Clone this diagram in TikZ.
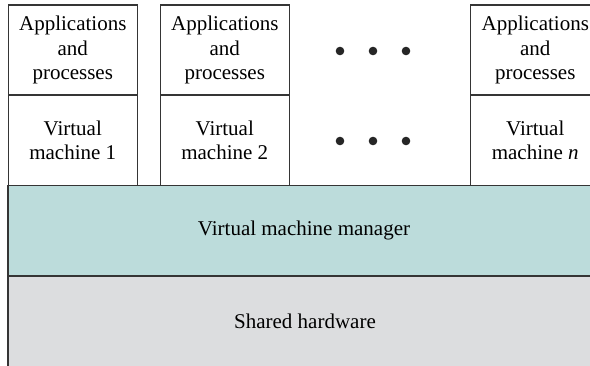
\documentclass[tikz,border=0pt]{standalone}
\usepackage{fontspec}
\setmainfont{Liberation Serif}
\definecolor{vmmfill}{HTML}{BCDCDB}
\definecolor{hwfill}{HTML}{DCDDDF}
\definecolor{edge}{HTML}{353535}
\tikzset{
  cell/.style={draw=edge, line width=1.2pt, fill=white, minimum width=129pt, minimum height=90pt,
    inner sep=0pt, align=center, font=\fontsize{21}{24.5}\selectfont},
  layer/.style={draw=edge, line width=1.4pt, inner sep=0pt, font=\fontsize{21}{24.5}\selectfont},
  dotmark/.style={circle, fill=black!85, minimum size=8.6pt, inner sep=0pt},
  lbl/.style={inner sep=0pt, font=\fontsize{21}{24.5}\selectfont}
}
\begin{document}
\begin{tikzpicture}[x=1pt,y=-1pt]
\useasboundingbox (0,0) rectangle (590,366);
\clip (0,0) rectangle (590,366);
% layers
\node[layer, fill=hwfill, minimum width=592pt, minimum height=92pt] (hw) at (304,322) {};
\node[lbl] (hwlbl) at (305,321.5) {Shared hardware};
\node[layer, fill=vmmfill, minimum width=592pt, minimum height=90.5pt] (vmm) at (304,230.75) {Virtual machine manager};
% VM 1
\node[cell] (app1) at (72.75,50) {Applications\\and\\processes};
\node[cell, minimum height=90.5pt] (vm1) at (72.75,140.25) {Virtual\\machine 1};
% VM 2
\node[cell] (app2) at (224.75,50) {Applications\\and\\processes};
\node[cell, minimum height=90.5pt] (vm2) at (224.75,140.25) {Virtual\\machine 2};
% VM n
\node[cell] (appn) at (535.25,50) {Applications\\and\\processes};
\node[cell, minimum height=90.5pt] (vmn) at (535.25,140.25) {Virtual\\machine \textit{n}};
% dots
\node[dotmark] (d1) at (340,51) {};
\node[dotmark] (d2) at (373,51) {};
\node[dotmark] (d3) at (406,51) {};
\node[dotmark] (d4) at (340,141) {};
\node[dotmark] (d5) at (373,141) {};
\node[dotmark] (d6) at (406,141) {};
\end{tikzpicture}
\end{document}
